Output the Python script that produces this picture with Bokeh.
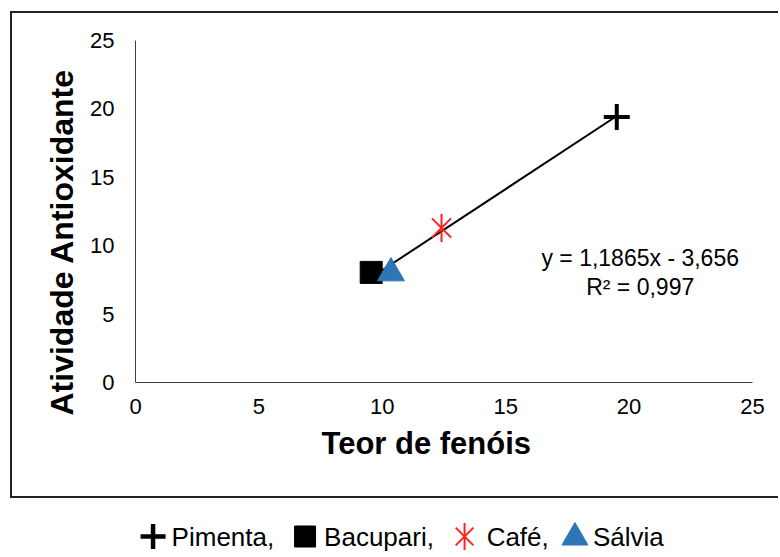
import math
from bokeh.plotting import figure
from bokeh.models import Range1d, FixedTicker, Label, Title
from bokeh.core.properties import value
from bokeh.layouts import column
from bokeh.embed import file_html
from bokeh.resources import INLINE

# ---- data ----
amostras = ["Pimenta", "Bacupari", "Café", "Sálvia"]
teor_fenois = [19.5, 9.55, 12.4, 10.35]
atividade_antioxidante = [19.4, 8.05, 11.3, 8.0]
slope = 1.1865
intercept = -3.656
r2 = 0.997
ticks = [0, 5, 10, 15, 20, 25]

FONT = "Liberation Sans"
BLUE = "#2E75B6"
RED = "#FF2020"

p = figure(width=768, height=487, x_range=Range1d(0, 25), y_range=Range1d(0, 25),
           output_backend="svg", toolbar_location=None,
           min_border_left=123, min_border_right=28, min_border_top=27, min_border_bottom=118,
           margin=(11, 0, 0, 10))
p.styles = {"border-left": "2px solid #222", "border-top": "2px solid #222",
            "border-bottom": "2px solid #222"}
p.xgrid.visible = False
p.ygrid.visible = False
p.outline_line_color = None

for ax in (p.xaxis[0], p.yaxis[0]):
    ax.ticker = FixedTicker(ticks=ticks)
    ax.major_tick_line_color = None
    ax.minor_tick_line_color = None
    ax.major_tick_out = 0
    ax.major_tick_in = 0
    ax.axis_line_color = "#404040"
    ax.axis_line_width = 1
    ax.major_label_text_font = FONT
    ax.major_label_text_font_size = "22px"
    ax.major_label_text_color = "#000000"
p.xaxis.major_label_standoff = 16
p.yaxis.major_label_standoff = 21

# axis titles
p.add_layout(Title(text="Teor de fenóis", align="left", offset=186, standoff=14,
                   text_font=FONT, text_font_style="bold", text_font_size="31px",
                   text_color="black"), "below")
p.add_layout(Title(text="Atividade Antioxidante", align="left", offset=-33, standoff=15,
                   text_font=FONT, text_font_style="bold", text_font_size="32px",
                   text_color="black"), "left")

# trend line from the equation
xs = [min(teor_fenois), max(teor_fenois)]
ys = [slope * x + intercept for x in xs]
p.line(xs, ys, line_color="black", line_width=2)

# markers
p.scatter([teor_fenois[0]], [atividade_antioxidante[0]], marker="cross", size=26,
          line_color="black", line_width=4)
p.scatter([teor_fenois[1]], [atividade_antioxidante[1]], marker="square", size=22,
          fill_color="black", line_color="black")
p.scatter([teor_fenois[2]], [atividade_antioxidante[2]], marker="x", size=27,
          line_color=RED, line_width=2)
p.scatter([teor_fenois[2]], [atividade_antioxidante[2]], marker="dash", size=28,
          angle=math.pi / 2, line_color=RED, line_width=2)
p.scatter([teor_fenois[3]], [atividade_antioxidante[3]], marker="triangle", size=27,
          fill_color=BLUE, line_color=BLUE)

eq_text = ("y = " + f"{slope:.4f}".replace(".", ",") + "x - " + f"{abs(intercept):.3f}".replace(".", ",")
           + "\nR² = " + f"{r2:.3f}".replace(".", ","))
p.add_layout(Label(x=20.45, y=8.05, text=eq_text, text_align="center", text_baseline="middle",
                   text_font=FONT, text_font_size="23px", text_color="black", text_line_height=1.1))

# ---- legend strip below the box (its frame is aligned with the plot frame: page px 135..750) ----
p2 = figure(width=768, height=55, x_range=Range1d(135, 750), y_range=Range1d(553, 498),
            output_backend="svg", toolbar_location=None, min_border=0,
            x_axis_location=None, y_axis_location=None, margin=(0, 0, 0, 10))
p2.styles = {"border-left": "2px solid transparent"}
p2.outline_line_color = None
p2.grid.visible = False

# legend layout (pixel positions of swatches and label starts)
sw_x = [152.5, 304, 463, 573]
sw_y = 536
lab_x = [171, 323, 485, 591]
labels = [amostras[0] + ",", amostras[1] + ",", amostras[2] + ",", amostras[3]]

p2.scatter([sw_x[0]], [sw_y], marker="cross", size=25, line_color="black", line_width=4.5)
p2.scatter([sw_x[1]], [sw_y], marker="square", size=21, fill_color="black", line_color="black")
p2.scatter([sw_x[2]], [sw_y], marker="x", size=25, line_color=RED, line_width=2)
p2.scatter([sw_x[2]], [sw_y], marker="dash", size=27, angle=math.pi / 2, line_color=RED, line_width=2)
p2.scatter([sw_x[3]], [sw_y + 1], marker="triangle", size=26, fill_color=BLUE, line_color=BLUE)
p2.text(x=lab_x, y=[sw_y] * 4, text=labels, text_baseline="middle", text_align="left",
        text_font=value(FONT), text_font_size="26px", text_color="black")

layout = column(p, p2, spacing=0)
open("out.html", "w").write(file_html(layout, INLINE))
